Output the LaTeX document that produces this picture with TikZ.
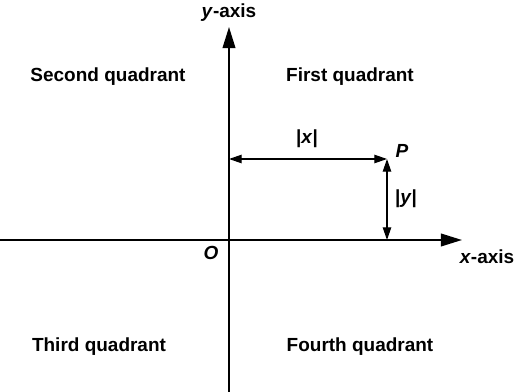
\documentclass[tikz,border=0pt]{standalone}
\usepackage{fontspec}
\setmainfont{Liberation Sans}
\usetikzlibrary{arrows.meta}

\begin{document}
\begin{tikzpicture}[x=0.025cm, y=-0.025cm,
    font=\bfseries\fontsize{13.5}{15}\selectfont,
    axis/.style={line width=1.3pt, -{Triangle[length=15pt, width=9pt]}},
    dist/.style={line width=0.9pt, {Triangle[length=9pt, width=6pt]}-{Triangle[length=9pt, width=6pt]}},
    lbl/.style={inner sep=1pt}]
        \useasboundingbox (0,0) rectangle (515,392);

        % axes
        \coordinate (xstart) at (0,240);
        \coordinate (xend) at (462,240);
        \coordinate (ystart) at (229,392);
        \coordinate (yend) at (229,27);
        \draw[axis] (xstart) -- (xend);
        \draw[axis] (ystart) -- (yend);
        \node[lbl] (xlab) at (487,257) {\textit{x}-axis};
        \node[lbl] (ylab) at (229,13) {\textit{y}-axis};
        \node[lbl] (olab) at (211,253) {\textit{O}};

        % point P and its distances
        \coordinate (P) at (387,159);
        \coordinate (Py) at (229,159);
        \coordinate (Px) at (387,240);
        \node[lbl] (plab) at (402,151) {\textit{P}};
        \draw[dist] (Py) -- (P);
        \draw[dist] (P) -- (Px);
        \node[lbl] (xdist) at (307,139) {|\textit{x}|};
        \node[lbl] (ydist) at (406,199) {|\textit{y}|};

        % quadrants
        \node[lbl] (q2) at (108,77) {Second quadrant};
        \node[lbl] (q1) at (350,77) {First quadrant};
        \node[lbl] (q3) at (99,347) {Third quadrant};
        \node[lbl] (q4) at (360,347) {Fourth quadrant};
    \end{tikzpicture}
\end{document}
